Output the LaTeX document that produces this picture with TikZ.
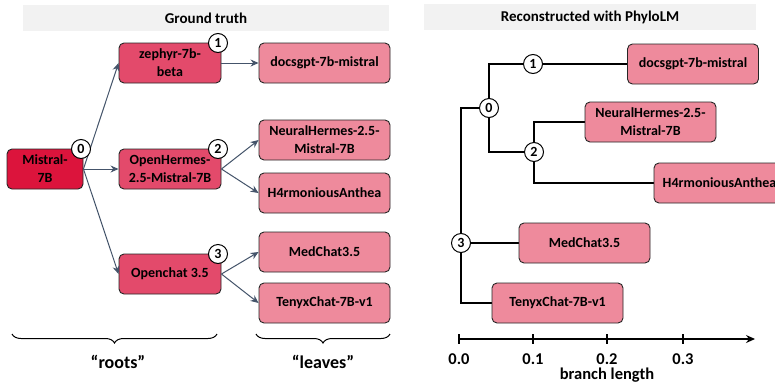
\documentclass[tikz,border=0pt]{standalone}
\usepackage{fontspec}
\setmainfont{Carlito}[BoldFont={Carlito Bold}]
\usetikzlibrary{arrows.meta,decorations.pathreplacing,backgrounds}
\definecolor{rootc}{HTML}{DC143C}
\definecolor{midc}{HTML}{E34A6B}
\definecolor{leafc}{HTML}{EE8A9C}
\definecolor{edgec}{HTML}{262626}
\definecolor{arrc}{HTML}{44546A}
\definecolor{barc}{HTML}{F2F2F2}
\tikzset{
  box/.style={draw=edgec, line width=0.9pt, rounded corners=5pt, align=center,
    font=\fontsize{14}{18}\selectfont\bfseries, inner sep=0pt},
  rootbox/.style={box, fill=rootc, minimum width=76pt, minimum height=40pt},
  midbox/.style={box, fill=midc, minimum width=102pt, minimum height=40pt},
  leafbox/.style={box, fill=leafc, minimum width=131pt, minimum height=40pt},
  num/.style={circle, draw=black, fill=white, line width=1pt, inner sep=0pt,
    minimum size=19pt, font=\fontsize{14}{14}\selectfont\bfseries},
  bar/.style={fill=barc, draw=none, minimum height=26pt, inner sep=0pt,
    font=\fontsize{15}{16}\selectfont\bfseries},
  arr/.style={draw=arrc, line width=1pt, -{Stealth[length=8pt,width=7pt]}},
  tree/.style={draw=black, line width=1.5pt},
  brc/.style={draw=black, line width=1pt, decorate,
    decoration={brace, mirror, amplitude=9pt}},
  lbl/.style={font=\fontsize{18}{18}\selectfont\bfseries, inner sep=0pt},
  tick/.style={font=\fontsize{16.5}{16.5}\selectfont\bfseries, inner sep=0pt}
}
\begin{document}
\begin{tikzpicture}[x=1pt,y=-1pt]
\clip (0,0) rectangle (775,386);
% ---------- left panel ----------
\node[bar, minimum width=366pt] (t1) at (206,18) {Ground truth};
\node[rootbox] (mis) at (45,169) {Mistral-\\7B};
\node[midbox] (zep) at (170,63) {zephyr-7b-\\beta};
\node[midbox] (oh) at (170,169) {OpenHermes-\\2.5-Mistral-7B};
\node[midbox] (oc) at (170,274) {Openchat 3.5};
\node[leafbox] (doc) at (324.5,63) {docsgpt-7b-mistral};
\node[leafbox] (nh) at (324.5,140) {NeuralHermes-2.5-\\Mistral-7B};
\node[leafbox] (h4) at (324.5,193) {H4rmoniousAnthea};
\node[leafbox] (med) at (324.5,252) {MedChat3.5};
\node[leafbox] (ten) at (324.5,303) {TenyxChat-7B-v1};
\draw[arr] (mis.east) -- (zep.west);
\draw[arr] (mis.east) -- (oh.west);
\draw[arr] (mis.east) -- (oc.west);
\draw[arr] (zep.east) -- (doc.west);
\draw[arr] (oh.east) -- (nh.west);
\draw[arr] (oh.east) -- (h4.west);
\draw[arr] (oc.east) -- (med.west);
\draw[arr] (oc.east) -- (ten.west);
\node[num] (n0) at (81,149) {0};
\node[num] (n1) at (218,43) {1};
\node[num] (n2) at (218,149) {2};
\node[num] (n3) at (218,254) {3};
\coordinate (rb1) at (12,334);
\coordinate (rb2) at (217,334);
\coordinate (lb1) at (256,334);
\coordinate (lb2) at (390,334);
\draw[brc] (rb1) -- (rb2);
\draw[brc] (lb1) -- (lb2);
\node[lbl] (roots) at (118,362) {“roots”};
\node[lbl] (leaves) at (323,362) {“leaves”};
% ---------- right panel ----------
\node[bar, minimum width=332pt] (t2) at (590,17) {Reconstructed with PhyloLM};
\node[leafbox] (doc2) at (693,64) {docsgpt-7b-mistral};
\node[leafbox] (nh2) at (650.5,122) {NeuralHermes-2.5-\\Mistral-7B};
\node[leafbox] (h42) at (719.5,183) {H4rmoniousAnthea};
\node[leafbox] (med2) at (584.5,243) {MedChat3.5};
\node[leafbox] (ten2) at (557.5,303) {TenyxChat-7B-v1};
\node[num] (c0) at (489,108) {0};
\node[num] (c1) at (533,64) {1};
\node[num] (c2) at (534,152) {2};
\node[num] (c3) at (461,243) {3};
\begin{scope}[on background layer]
\fill[white] (0,0) rectangle (775,386);
\draw[tree] (c0.center) |- (c1.center) -- (doc2.west);
\draw[tree] (c0.center) |- (c2.center);
\draw[tree] (c2.center) |- (nh2.west);
\draw[tree] (c2.center) |- (h42.west);
\draw[tree] (c0.center) -| (c3.center);
\draw[tree] (c3.center) -- (med2.west);
\draw[tree] (c3.center) |- (ten2.west);
\end{scope}
% axis
\coordinate (ax0) at (459,339);
\coordinate (ax1) at (755,339);
\draw[line width=1.3pt, -{Stealth[length=9pt,width=8pt]}] (ax0) -- (ax1);
\foreach \x/\t in {459/0.0, 533/0.1, 607/0.2, 683/0.3} {
  \draw[line width=1.3pt] (\x,334) -- (\x,344);
  \node[tick] at (\x,359) {\t};
}
\node[tick] (bl) at (607,375) {branch length};
\end{tikzpicture}
\end{document}
